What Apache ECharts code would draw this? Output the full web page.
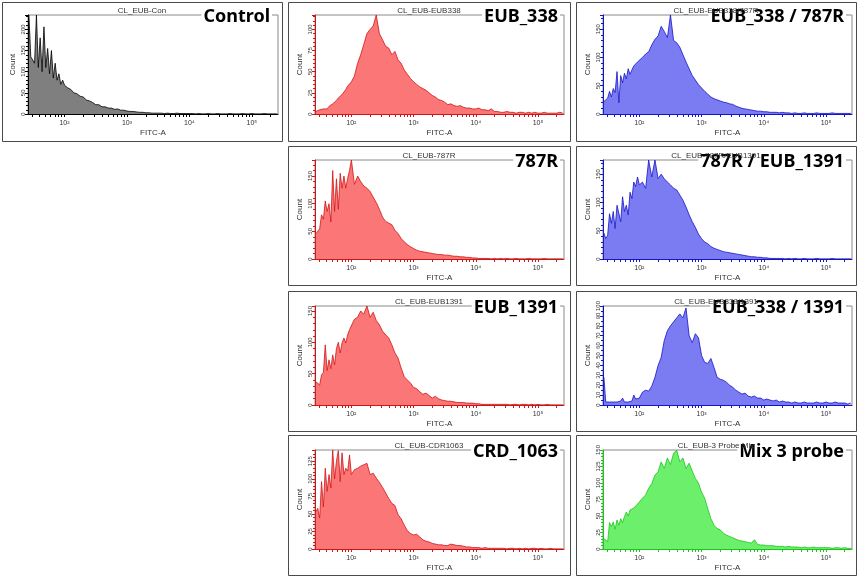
<!DOCTYPE html>
<html><head><meta charset="utf-8">
<script src="https://cdn.jsdelivr.net/npm/echarts@6/dist/echarts.min.js"></script>
<style>html,body{margin:0;padding:0;background:#fff}#c{width:858px;height:577px}</style>
</head><body><div id="c"></div>
<script>
// FITC-A bin centres (log-spaced channels)
const fitcBins = [26.9, 28.8, 30.9, 33.1, 35.5, 38.0, 40.7, 43.7, 46.8, 50.1, 53.7, 57.5, 61.7, 66.1, 70.8, 75.9, 81.3, 87.1, 93.3, 100,
  112, 126, 141, 158, 178, 200, 224, 251, 282, 316, 355, 398, 447, 501, 562, 631, 708, 794, 891, 1000,
  1122, 1259, 1413, 1585, 1778, 1995, 2239, 2512, 2818, 3162, 3548, 3981, 4467, 5012, 5623, 6310, 7079, 7943, 8913, 10000,
  11220, 12589, 14125, 15849, 17783, 19953, 22387, 25119,
  28184, 31623, 35481, 39811, 44668, 50119, 56234, 63096, 70795, 79433, 89125, 100000, 112202, 125893, 141254, 158489, 177828, 199526, 223872, 251189];

const countControl = [234,135,128,120,234,110,180,100,206,110,155,95,150,85,120,80,95,70,80,68,
  62,58,50,48,42,40,33,31,27,22,22,17,17,14,14,11,12,9,9,7,
  6,6,5,4,4,3,3,2,2,2,2,1,2,1,1,2,1,1,1,1,
  1,0,1,0,0,1,0,0,
  1,0,0,0,1,0,0,0,1,0,0,1,0,0,0,1,0,0,0,0];
const countEUB338 = [3,4,5,4,6,7,6,9,10,12,14,16,19,20,23,26,29,33,35,38,
  45,60,70,82,95,100,104,117,95,88,80,78,70,74,64,60,52,47,42,38,
  35,32,30,28,25,22,20,17,16,14,11,12,10,9,10,8,7,7,6,6,
  7,5,5,4,6,3,3,2,
  2,3,2,2,1,2,2,1,2,1,2,1,1,2,1,1,1,1,2,1];
const countEUB338_787R = [22,25,28,40,30,45,38,75,20,68,55,72,62,80,70,78,85,88,92,95,
  100,106,110,122,132,138,155,146,135,175,130,126,118,105,92,80,68,60,52,46,
  40,35,30,27,25,23,21,20,18,17,14,12,10,9,8,7,6,5,5,4,
  4,3,3,3,2,3,2,2,
  1,2,1,1,2,1,1,1,2,1,1,1,1,2,1,1,1,1,1,1];
const count787R = [46,50,55,80,72,105,86,100,67,160,86,145,90,155,128,150,128,146,160,179,
  135,150,140,132,128,122,112,102,90,76,68,65,62,52,46,37,31,26,22,19,
  16,14,13,12,11,10,9,8,8,7,7,6,5,5,4,4,3,3,2,2,
  1,1,1,1,0,1,0,1,
  0,1,0,0,1,0,0,0,1,0,0,0,0,1,0,0,0,0,0,0];
const count787R_EUB1391 = [46,36,42,80,63,84,54,95,98,66,110,84,95,78,118,107,136,128,145,131,
  136,125,175,145,175,142,150,142,136,131,125,122,113,104,92,78,66,56,44,36,
  30,27,22,19,17,15,13,12,11,10,9,8,7,6,5,4,4,3,3,2,
  2,1,1,1,1,1,0,1,
  0,1,0,0,1,0,0,0,1,0,0,0,0,1,0,0,0,0,0,0];
const countEUB1391 = [37,34,32,48,52,96,55,72,58,80,64,90,100,83,99,107,99,112,120,117,
  137,140,150,145,158,140,148,135,128,118,112,107,96,83,75,59,45,40,35,28,
  26,21,17,19,15,11,14,10,8,7,6,6,5,4,4,4,3,3,3,2,
  2,1,1,1,1,1,1,1,
  1,1,0,1,1,0,1,1,0,1,0,1,0,0,1,0,0,0,0,0];
const countEUB338_1391 = [28,3,2,3,2,3,2,3,2,4,7,3,4,3,5,4,10,6,8,7,
  13,15,14,19,28,40,48,65,75,80,84,88,92,88,98,70,63,72,68,50,
  43,42,47,38,28,26,25,23,20,18,15,13,11,12,9,8,9,7,7,5,
  6,5,4,5,3,4,3,3,
  2,3,2,2,3,2,2,2,3,2,2,3,2,2,3,2,2,2,1,2];
const countCRD1063 = [53,58,44,96,60,115,82,106,87,141,100,125,140,96,137,106,115,111,134,106,
  113,115,118,120,122,106,108,101,95,88,80,72,65,62,49,43,34,26,22,20,
  21,17,13,11,10,8,7,6,6,5,5,7,6,5,5,4,3,3,2,2,
  2,1,2,1,1,1,1,1,
  1,0,1,1,0,1,0,1,0,1,1,0,1,0,0,1,0,0,0,0];
const countMix3 = [16,19,11,40,34,41,30,44,36,46,40,49,56,50,59,58,62,64,68,70,
  77,82,92,99,112,117,132,122,138,128,145,150,132,138,122,130,118,107,100,86,
  77,61,46,36,31,29,24,21,19,17,15,13,12,11,10,9,14,7,6,6,
  5,5,5,4,4,4,3,4,
  3,3,3,2,3,2,2,3,2,2,2,2,2,1,2,2,1,2,1,1];

// axis ticks
const xLabelTicks = [100, 1000, 10000, 100000];
const xMinorTicks = [30,40,50,60,70,80,90,100,200,300,400,500,600,700,800,900,1000,2000,3000,4000,5000,6000,7000,8000,9000,10000,20000,30000,40000,50000,60000,70000,80000,90000,100000,200000];
const yAxisMax = [234, 117, 175, 179, 175, 158, 100, 141, 150];
const yAxisStep = [50, 25, 50, 50, 50, 50, 10, 25, 25];

// texts
const sampleNames = ['CL_EUB-Con','CL_EUB-EUB338','CL_EUB-EUB338/787R','CL_EUB-787R','CL_EUB-787R/EUB1391','CL_EUB-EUB1391','CL_EUB-EUB338/1391','CL_EUB-CDR1063','CL_EUB-3 Probe Mix'];
const panelLabels = ['Control','EUB_338','EUB_338 / 787R','787R','787R / EUB_1391','EUB_1391','EUB_338 / 1391','CRD_1063','Mix 3 probe'];
const seriesData = [countControl, countEUB338, countEUB338_787R, count787R, count787R_EUB1391, countEUB1391, countEUB338_1391, countCRD1063, countMix3];

// layout / style (not data)
const colBox = [[2,282],[288,570],[576,856]];
const colPlot = [[28,278],[315,564],[603,852]];
const rowBox = [[2,141],[146,285],[291,431],[435,575]];
const rowPlot = [[15,114],[160,259],[306,405],[450,549]];
const place = [[0,0],[1,0],[2,0],[1,1],[2,1],[1,2],[2,2],[1,3],[2,3]];
const palette = {
  gray: {fill:'#7f7f7f', line:'#000000'},
  red: {fill:'#fb7676', line:'#d01515'},
  blue: {fill:'#7c7cf2', line:'#1414c8'},
  green: {fill:'#6cf06c', line:'#1cc41c'}
};
const panelColor = ['gray','red','blue','red','blue','red','blue','red','green'];
const minorSplit = [5,5,5,5,5,5,2,5,5];
const sup = {2:'\u00b2',3:'\u00b3',4:'\u2074',5:'\u2075'};

const chart = echarts.init(document.getElementById('c'), null, {renderer:'canvas', width:858, height:577});
const grids=[], xAxes=[], yAxes=[], series=[], graphics=[];
const smallFont = {fontSize:8, fontFamily:'"Liberation Sans", Arial, sans-serif', color:'#333'};

seriesData.forEach((vals, i) => {
  const [ci, ri] = place[i];
  const cp = colPlot[ci], rp = rowPlot[ri], cb = colBox[ci], rb = rowBox[ri];
  const col = palette[panelColor[i]];
  grids.push({left:cp[0], top:rp[0], width:cp[1]-cp[0], height:rp[1]-rp[0], show:true, borderColor:'#8a8a8a', borderWidth:1, backgroundColor:'transparent'});
  xAxes.push({
    type:'log', logBase:10, gridIndex:i, min:26, max:262144,
    name:'FITC-A', nameLocation:'middle', nameGap:15, nameTextStyle:smallFont,
    axisLine:{show:true, lineStyle:{color:col.line, width:1}},
    axisTick:{show:true, customValues:xMinorTicks, length:3, lineStyle:{color:col.line, width:1}},
    axisLabel:{customValues:xLabelTicks, fontSize:7, margin:6, color:'#333', fontFamily:'"Liberation Sans", Arial, sans-serif',
      formatter: v => '10' + sup[Math.round(Math.log10(v))]},
    splitLine:{show:false}
  });
  yAxes.push({
    type:'value', gridIndex:i, min:0, max:yAxisMax[i], interval:yAxisStep[i],
    name:'Count', nameLocation:'middle', nameGap:11, nameTextStyle:smallFont,
    axisLine:{show:true, lineStyle:{color:col.line, width:1}},
    axisTick:{show:true, length:3, lineStyle:{color:col.line}},
    minorTick:{show:true, splitNumber:minorSplit[i], length:2, lineStyle:{color:col.line}},
    axisLabel:{rotate:90, fontSize:6, margin:2, color:'#333', fontFamily:'"Liberation Sans", Arial, sans-serif',
      showMaxLabel: yAxisMax[i] % yAxisStep[i] === 0},
    splitLine:{show:false}
  });
  series.push({
    type:'line', xAxisIndex:i, yAxisIndex:i,
    data: fitcBins.map((x,k) => [x, vals[k]]),
    symbol:'none', clip:true, animation:false,
    lineStyle:{color:col.line, width:0.8},
    areaStyle:{color:col.fill, opacity:1}
  });
  graphics.push({type:'rect', shape:{x:cb[0]+0.5, y:rb[0]+0.5, width:cb[1]-cb[0], height:rb[1]-rb[0]}, style:{fill:'none', stroke:'#4a4a4a', lineWidth:1}, z:1, silent:true});
  graphics.push({type:'text', x:cb[1]-10, y:rp[0]+2, z:100, silent:true,
    style:{text:panelLabels[i], fontSize:18, fontWeight:'bold', fontFamily:'"Noto Sans", sans-serif', fill:'#000', align:'right', verticalAlign:'middle', backgroundColor:'#fff', padding:[0,2,0,2]}});
  graphics.push({type:'text', x:(cb[0]+cb[1])/2, y:rp[0]-4, z:150, silent:true,
    style:{text:sampleNames[i], fontSize:8, fontFamily:'"Liberation Sans", Arial, sans-serif', fill:'#333', align:'center', verticalAlign:'middle'}});
});

chart.setOption({animation:false, backgroundColor:'#fff', grid:grids, xAxis:xAxes, yAxis:yAxes, series:series, graphic:{elements:graphics}});
</script></body></html>
